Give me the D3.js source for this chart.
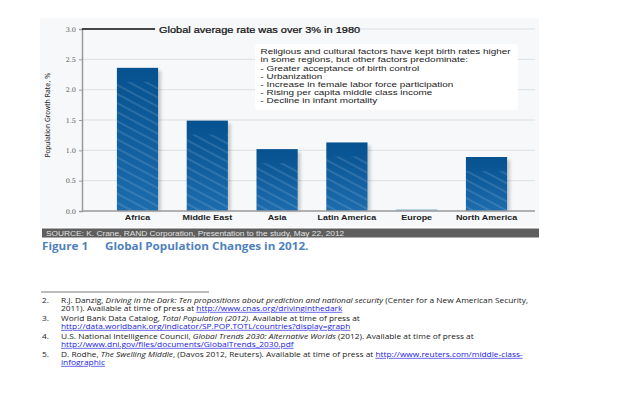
<!DOCTYPE html>
<html>
<head>
<meta charset="utf-8">
<script src="https://cdn.jsdelivr.net/npm/d3@7"></script>
<style>
  body { margin: 0; background: #fff; }
  svg { display: block; font-family: "Liberation Sans", Arial, sans-serif; }
</style>
</head>
<body>
<script>
// chart data
const regions = ["Africa", "Middle East", "Asia", "Latin America", "Europe", "North America"]
const growthRates = [2.36, 1.49, 1.02, 1.13, 0.03, 0.89]
const yTicks = [0, 0.5, 1.0, 1.5, 2.0, 2.5, 3.0]

const noteLines = [
  "Religious and cultural factors have kept birth rates higher",
  "in some regions, but other factors predominate:",
  "- Greater acceptance of birth control",
  "- Urbanization",
  "- Increase in female labor force participation",
  "- Rising per capita middle class income",
  "- Decline in infant mortality"
]

const w = 623
const h = 395

const svg = d3.select('body')
    .append('svg')
    .attr('width', w)
    .attr('height', h)

const defs = svg.append('defs')
const grad = defs.append('linearGradient')
    .attr('id', 'barGrad')
    .attr('x1', 0).attr('y1', 0).attr('x2', 0).attr('y2', 1)
grad.append('stop').attr('offset', '0%').attr('stop-color', '#06518f')
grad.append('stop').attr('offset', '100%').attr('stop-color', '#1c6cae')

const pat = defs.append('pattern')
    .attr('id', 'hatch')
    .attr('patternUnits', 'userSpaceOnUse')
    .attr('width', 8).attr('height', 8)
    .attr('patternTransform', 'rotate(28)')
pat.append('line')
    .attr('x1', 0).attr('y1', 4).attr('x2', 8).attr('y2', 4)
    .attr('stroke', 'rgba(255,255,255,0.3)')
    .attr('stroke-width', 0.8)

const blur = defs.append('filter').attr('id', 'shadow')
blur.append('feGaussianBlur').attr('stdDeviation', 1.5)

// plot area
const plotLeft = 82, plotRight = 535, plotTop = 29, plotBottom = 211

svg.append('rect')
    .attr('x', 40).attr('y', 18)
    .attr('width', plotRight - 40 + 4).attr('height', 209)
    .attr('fill', '#f6f8fa')

const x = d3.scaleBand()
    .domain(regions)
    .range([102.6, 521.4])
    .paddingInner(0.41)
    .paddingOuter(0.205)

const y = d3.scaleLinear()
    .domain([0, 3])
    .range([plotBottom, plotTop])

// gridlines
svg.append('g')
    .selectAll('line')
    .data(yTicks.filter(d => d > 0))
    .enter()
    .append('line')
    .attr('x1', plotLeft).attr('x2', plotRight)
    .attr('y1', d => y(d)).attr('y2', d => y(d))
    .attr('stroke', '#dcdfe3')
    .attr('stroke-width', 1)

// annotation box
const boxX = 255, boxY = 44
svg.append('rect')
    .attr('x', boxX).attr('y', boxY)
    .attr('width', 263).attr('height', 66)
    .attr('rx', 3)
    .attr('fill', '#ffffff')

svg.append('g')
    .attr('transform', `translate(${boxX + 5.5}, 0) scale(1.24, 1)`)
    .selectAll('text')
    .data(noteLines)
    .enter()
    .append('text')
    .attr('x', 0)
    .attr('y', (d, i) => 54.3 + i * 8.2)
    .attr('font-size', 8)
    .attr('fill', '#222')
    .text(d => d)

// bars
const bars = svg.append('g')
bars.selectAll('rect.shadow')
    .data(growthRates)
    .enter()
    .append('rect')
    .attr('class', 'shadow')
    .attr('x', (d, i) => x(regions[i]) + 3)
    .attr('y', d => y(d) + 3)
    .attr('width', x.bandwidth())
    .attr('height', d => Math.max(0, plotBottom - y(d) - 3))
    .attr('fill', 'rgba(0,0,0,0.18)')
    .attr('filter', 'url(#shadow)')

bars.selectAll('rect.bar')
    .data(growthRates)
    .enter()
    .append('rect')
    .attr('class', 'bar')
    .attr('x', (d, i) => x(regions[i]))
    .attr('y', d => y(d))
    .attr('width', x.bandwidth())
    .attr('height', d => plotBottom - y(d))
    .attr('fill', d => d < 0.1 ? '#a9cbe4' : 'url(#barGrad)')

bars.selectAll('rect.hatch')
    .data(growthRates)
    .enter()
    .filter(d => d >= 0.1)
    .append('rect')
    .attr('class', 'hatch')
    .attr('x', d => x(regions[growthRates.indexOf(d)]))
    .attr('y', d => y(d) + 14)
    .attr('width', x.bandwidth())
    .attr('height', d => plotBottom - y(d) - 14)
    .attr('fill', 'url(#hatch)')

// axes
const yAxis = d3.axisLeft(y)
    .tickValues(yTicks)
    .tickFormat(d3.format('.1f'))
    .tickSize(3)

const gy = svg.append('g')
    .attr('transform', `translate(${plotLeft}, 0)`)
    .call(yAxis)
gy.select('.domain').attr('stroke', '#9a9a9a').attr('stroke-width', 1.5)
gy.selectAll('.tick line').attr('stroke', '#9a9a9a')
gy.selectAll('.tick text')
    .attr('font-family', '"DejaVu Serif", serif')
    .attr('font-size', 6.5)
    .attr('fill', '#555')

svg.append('line')
    .attr('x1', plotLeft).attr('x2', plotRight)
    .attr('y1', plotBottom).attr('y2', plotBottom)
    .attr('stroke', '#9a9a9a')
    .attr('stroke-width', 1.3)

svg.append('g')
    .selectAll('text')
    .data(regions)
    .enter()
    .append('text')
    .attr('transform', d => `translate(${x(d) + x.bandwidth() / 2}, 219.5) scale(1.28, 1)`)
    .attr('text-anchor', 'middle')
    .attr('font-size', 7)
    .attr('font-weight', 'bold')
    .attr('fill', '#222')
    .text(d => d)

svg.append('text')
    .attr('transform', `translate(50, 115) rotate(-90)`)
    .attr('text-anchor', 'middle')
    .attr('font-size', 7)
    .attr('font-family', '"Liberation Sans Narrow", "DejaVu Sans Condensed", sans-serif')
    .attr('fill', '#222')
    .text('Population Growth Rate, %')

// 1980 marker line and label
svg.append('line')
    .attr('x1', plotLeft).attr('x2', 155)
    .attr('y1', y(3)).attr('y2', y(3))
    .attr('stroke', '#111')
    .attr('stroke-width', 1.5)
svg.append('rect')
    .attr('x', 156).attr('y', y(3) - 6)
    .attr('width', 178).attr('height', 12)
    .attr('fill', '#f6f8fa')
svg.append('text')
    .attr('transform', `translate(159, ${y(3) + 3.5}) scale(1.12, 1)`)
    .attr('font-size', 9.8)
    .attr('fill', '#111')
    .attr('stroke', '#111')
    .attr('stroke-width', 0.25)
    .text('Global average rate was over 3% in 1980')

// source strip
svg.append('rect')
    .attr('x', 42).attr('y', 228.5)
    .attr('width', 497).attr('height', 9)
    .attr('fill', '#5e5e5e')
svg.append('text')
    .attr('transform', 'translate(46, 235.5) scale(1.19, 1)')
    .attr('font-size', 7)
    .attr('fill', '#e2e2e2')
    .text('SOURCE: K. Crane, RAND Corporation, Presentation to the study, May 22, 2012')

// figure caption
const cap = svg.append('text')
    .attr('transform', 'translate(42, 250) scale(1.18, 1)')
    .attr('font-size', 9.9)
    .attr('font-weight', 'bold')
    .attr('font-family', '"Open Sans", sans-serif')
    .attr('fill', '#4f81bd')
cap.append('tspan').attr('x', 0).text('Figure 1')
cap.append('tspan').attr('x', (105 - 42) / 1.18).text('Global Population Changes in 2012.')

// footnotes
svg.append('line')
    .attr('x1', 41).attr('x2', 209)
    .attr('y1', 292).attr('y2', 292)
    .attr('stroke', '#555')
    .attr('stroke-width', 0.8)

const footnotes = [
  { n: '2.', y: 303, parts: [['R.J. Danzig, ', ''], ['Driving in the Dark: Ten propositions about prediction and national security', 'i'], [' (Center for a New American Security,', '']] },
  { n: '', y: 311, parts: [['2011). Available at time of press at ', ''], ['http://www.cnas.org/drivinginthedark', 'a']] },
  { n: '3.', y: 321, parts: [['World Bank Data Catalog, ', ''], ['Total Population (2012)', 'i'], ['. Available at time of press at', '']] },
  { n: '', y: 329, parts: [['http://data.worldbank.org/indicator/SP.POP.TOTL/countries?display=graph', 'a']] },
  { n: '4.', y: 339, parts: [['U.S. National Intelligence Council, ', ''], ['Global Trends 2030: Alternative Worlds', 'i'], [' (2012). Available at time of press at', '']] },
  { n: '', y: 347, parts: [['http://www.dni.gov/files/documents/GlobalTrends_2030.pdf', 'a']] },
  { n: '5.', y: 357, parts: [['D. Rodhe, ', ''], ['The Swelling Middle', 'i'], [', (Davos 2012, Reuters). Available at time of press at ', ''], ['http://www.reuters.com/middle-class-', 'a']] },
  { n: '', y: 365, parts: [['infographic', 'a']] }
]

const fn = svg.append('g')
    .attr('font-family', '"Open Sans", sans-serif')
    .attr('font-size', 6.6)
footnotes.forEach(f => {
  if (f.n) {
    fn.append('text')
        .attr('transform', `translate(42, ${f.y}) scale(1.26, 1)`)
        .attr('fill', '#222')
        .text(f.n)
  }
  const t = fn.append('text')
      .attr('transform', `translate(61, ${f.y}) scale(1.265, 1)`)
      .attr('fill', '#222')
  f.parts.forEach(p => {
    const s = t.append('tspan').text(p[0])
    if (p[1] === 'i') s.attr('font-style', 'italic')
    if (p[1] === 'a') s.attr('fill', '#1a1ae6').attr('text-decoration', 'underline')
  })
})
</script>
</body>
</html>
